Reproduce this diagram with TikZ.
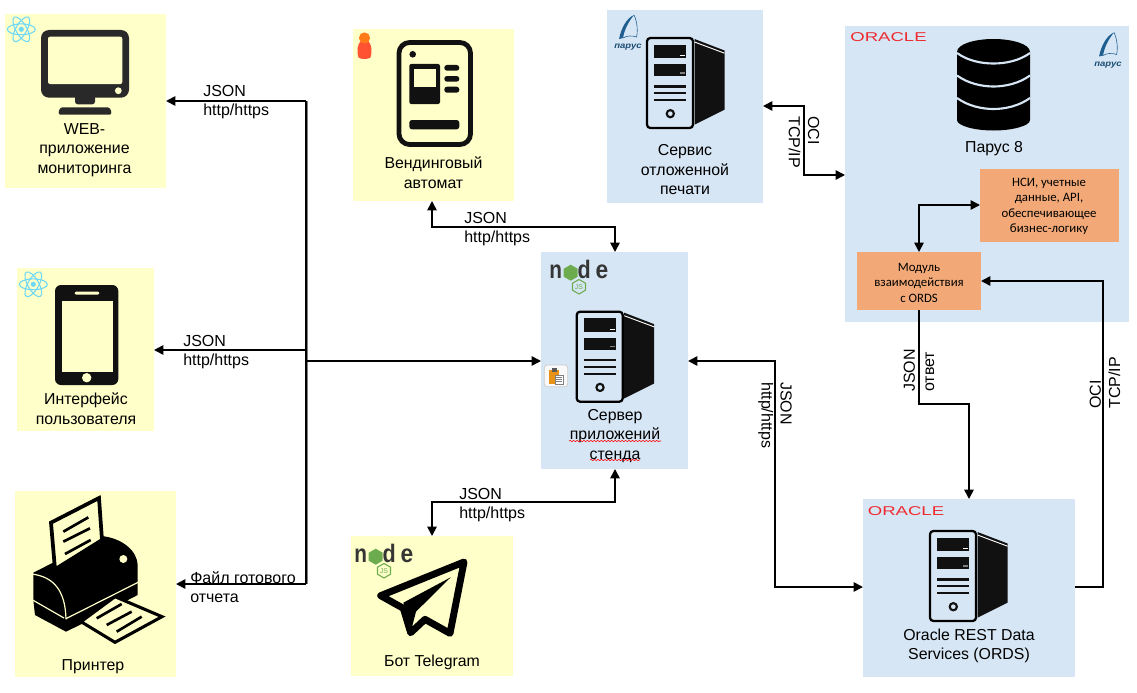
\documentclass[tikz,border=0pt]{standalone}
\usepackage{fontspec}
\setmainfont{Liberation Sans}
\newfontfamily\carlito{Carlito}
\usetikzlibrary{arrows.meta,fit,decorations.pathmorphing}
\definecolor{yel}{HTML}{FFFFC9}
\definecolor{blu}{HTML}{D7E6F5}
\definecolor{ora}{HTML}{F2A977}
\definecolor{rea}{HTML}{6FD8F5}
\definecolor{jsg}{HTML}{6CAC4F}
\definecolor{oracl}{HTML}{EE2A2E}
\definecolor{parb}{HTML}{1F5F8F}
\definecolor{ink}{HTML}{111111}
\tikzset{
  zoomed/.style 2 args={shift={(#1,#2)},x=.25pt,y=-.25pt},
  zone/.style={inner sep=0pt,outer sep=0pt,draw=none,rectangle},
  ybox/.style={zone,fill=yel},
  bbox/.style={zone,fill=blu},
  obox/.style={zone,fill=ora},
  lbl/.style={font=\fontsize{11.9}{14.6}\selectfont,align=center,inner sep=0pt,text=black},
  albl/.style={font=\fontsize{12}{14.3}\selectfont,align=left,inner sep=0pt,text=black},
  olbl/.style={font=\carlito\fontsize{9.6}{11.6}\selectfont,align=center,inner sep=0pt,text=black},
  conn/.style={draw=black,line width=1.25pt,line join=miter,-{Triangle[length=7pt,width=7pt]}},
  conn2/.style={draw=black,line width=1.25pt,line join=miter,{Triangle[length=7pt,width=7pt]}-{Triangle[length=7pt,width=7pt]}},
  plain/.style={draw=black,line width=1.25pt},
  wavy/.style={draw=red,line width=.45pt,decorate,decoration={snake,amplitude=.45pt,segment length=2.6pt}},
  oralogo/.style={text=oracl,font=\fontsize{9.6}{10}\selectfont,inner sep=0pt,xscale=1.45},
  serverpic/.pic={
    \draw[black,line width=1.7pt,rounded corners=2.5pt] (0,0) rectangle (46,90);
    \fill[ink] (7.3,6.7) rectangle (39.3,20);
    \fill[ink] (7.3,26) rectangle (39.3,38);
    \fill[white] (33,16.8) rectangle (38,17.8);
    \fill[gray] (33,34) rectangle (38,35.6);
    \fill[ink] (7.3,47.3) rectangle (39.3,49.5);
    \fill[ink] (7.3,54) rectangle (39.3,56.2);
    \fill[ink] (7.3,61.2) rectangle (39.3,63.4);
    \draw[ink,line width=1.6pt] (23.3,75.7) circle [radius=3.6];
    \fill[ink] (47.5,1) -- (77.5,12.5) -- (77.5,71.7) -- (47.5,86.7) -- cycle;
    \draw[white,line width=.7pt] (47.5,4) -- (77.5,15.2);
  },
  atompic/.pic={
    \foreach \a in {0,60,120}{
      \draw[rea,line width=.8pt,rotate=\a] (0,0) ellipse [x radius=14,y radius=5.4];
    }
    \fill[rea] (0,0) circle [radius=2.6];
  },
  nodelogo/.pic={
    \fill[jsg] (20.7,5.7) -- (27.7,9.7) -- (27.7,17.7) -- (20.7,21.7) -- (13.7,17.7) -- (13.7,9.7) -- cycle;
    \node[inner sep=0pt,anchor=base,text=ink!85,font=\bfseries\fontsize{19}{20}\selectfont,xscale=.82] (-n) at (5.8,19.3) {n};
    \node[inner sep=0pt,anchor=base,text=ink!85,font=\bfseries\fontsize{19}{20}\selectfont,xscale=.85] (-d) at (34.2,19.3) {d};
    \node[inner sep=0pt,anchor=base,text=ink!85,font=\bfseries\fontsize{19}{20}\selectfont,xscale=.9] (-e) at (52,19.3) {e};
    \draw[jsg,line width=.8pt] (29,20.5) -- (35.5,24.2) -- (35.5,31.2) -- (29,35) -- (22.5,31.2) -- (22.5,24.2) -- cycle;
    \node[inner sep=0pt,text=jsg,font=\fontsize{5.2}{5.5}\selectfont] (-j) at (29,27.7) {JS};
  },
  paruspic/.pic={
    \fill[parb] (-9,24) .. controls (-6.5,12) and (-1,3) .. (6,0) .. controls (1,6) and (-3.5,14) .. (-5,23) .. controls (-6.5,23.3) and (-7.8,23.5) .. (-9,24) -- cycle;
    \draw[parb,line width=.45pt] (6,0) .. controls (9,6) and (10,15) .. (8.6,22) .. controls (4,20.5) and (-1,20.5) .. (-5,23);
    \node[inner sep=0pt,text=parb!80!black,font=\bfseries\itshape\fontsize{6.2}{7}\selectfont,xscale=1.15] (-t) at (0,32.5) {парус};
  }
}
\begin{document}
\begin{tikzpicture}[x=.75pt,y=-.75pt]
\useasboundingbox (0,0) rectangle (1137,692);
% zones
\node[ybox,fit={(5,14)(166,188)}] (web) {};
\node[ybox,fit={(353,29)(514,201)}] (vend) {};
\node[bbox,fit={(607,10)(763,203)}] (svc) {};
\node[bbox,fit={(845,26)(1129,322)}] (parus) {};
\node[obox,fit={(980,169)(1119,242)}] (nsi) {};
\node[obox,fit={(857,252)(981,310)}] (mod) {};
\node[bbox,fit={(541,252)(688,469)}] (srv) {};
\node[bbox,fit={(863,499)(1075,677)}] (ords) {};
\node[ybox,fit={(17,268)(154,431)}] (ui) {};
\node[ybox,fit={(15,491)(176,677)}] (prn) {};
\node[ybox,fit={(351,536)(513,676)}] (tg) {};

% servers
\pic at (576.7,311.7) {serverpic};
\pic at (930,531) {serverpic};
\pic at (647,38) {serverpic};

% monitor
\fill[ink!90,rounded corners=6pt] (41,30) rectangle (129,97.7);
\fill[yel,rounded corners=1.5pt] (48,36.7) rectangle (122.3,84);
\fill[yel] (118.3,90.7) circle [radius=3.4];
\fill[ink!90,rounded corners=2pt] (75,95) -- (75,104.3) -- (95,104.3) -- (95,95) -- cycle;
\fill[ink!90,rounded corners=2pt] (58,114.7) -- (60,107.3) -- (110,107.3) -- (112,114.7) -- cycle;

% phone
\fill[ink,rounded corners=4.5pt] (55,285) rectangle (118.3,385);
\fill[yel] (61.7,300.7) rectangle (112.7,371.7);
\fill[yel,rounded corners=1pt] (74.7,291.7) rectangle (99.3,294.7);
\fill[yel] (86.7,377.7) circle [radius=4.7];

% vending
\draw[ink,line width=3.6pt,rounded corners=8pt] (399,42.5) rectangle (470.5,144.5);
\fill[ink] (412.7,54.3) circle [radius=3.3];
\fill[ink,rounded corners=1.5pt] (409.3,64) rectangle (440,104);
\fill[yel] (414,69) rectangle (436,87.3);
\fill[ink,rounded corners=2pt] (444.3,65) rectangle (459.3,70.7);
\fill[ink,rounded corners=2pt] (444.3,76) rectangle (459.3,81.7);
\fill[ink,rounded corners=2pt] (444.3,86.7) rectangle (459.3,92.7);
\fill[ink,rounded corners=2pt] (409.3,120) rectangle (459.3,129.3);

% matryoshka
\fill[red!70!orange!80!white] (358.5,57.5) .. controls (356.5,50) and (357.5,46) .. (360,42) -- (369,42) .. controls (371.5,46) and (372.5,50) .. (370.5,57.5) .. controls (368,59.5) and (361,59.5) .. (358.5,57.5) -- cycle;
\fill[orange!85!red!90!white] (364.5,38) circle [radius=5.6];

% database
\begin{scope}
\fill[black] (957,52) .. controls (957,44) and (975,39) .. (993.5,39) .. controls (1012,39) and (1030,44) .. (1030,52) -- (1030,120) .. controls (1030,126) and (1012,130.5) .. (993.5,130.5) .. controls (975,130.5) and (957,126) .. (957,120) -- cycle;
\draw[blu,line width=1.6pt] (957,53) .. controls (968,61) and (982,63.5) .. (993.5,63.5) .. controls (1005,63.5) and (1019,61) .. (1030,53);
\draw[blu,line width=1.6pt] (957,75.5) .. controls (968,83.5) and (982,86.5) .. (993.5,86.5) .. controls (1005,86.5) and (1019,83.5) .. (1030,75.5);
\draw[blu,line width=1.6pt] (957,98) .. controls (968,106) and (982,109) .. (993.5,109) .. controls (1005,109) and (1019,106) .. (1030,98);
\end{scope}

% printer
\begin{scope}[zoomed={0}{480}]
\fill[black] (100,278) -- (165,245) -- (305,168) .. controls (370,175) and (412,215) .. (413,255) -- (413,345) -- (245,432) -- (198,455) -- (105,405) -- (100,360) -- cycle;
\draw[yel,line width=.9pt] (95,282) .. controls (160,290) and (196,330) .. (198,418);
\draw[yel,line width=.9pt] (98,360) -- (192,414);
\draw[yel,line width=.9pt] (198,416) -- (416,306);
\fill[yel] (370,237) circle [radius=12];
\draw[black,line width=2.8pt,fill=yel] (153,128) -- (297,54) -- (306,180) -- (165,268) -- cycle;
\draw[black,line width=2pt] (190,155) -- (265,112);
\draw[black,line width=2pt] (190,185) -- (270,145);
\draw[black,line width=2pt] (195,222) -- (272,180);
\draw[black,line width=2.3pt,fill=yel,line join=miter] (345,350) -- (486,410) -- (345,487) -- (243,425) -- cycle;
\draw[black,line width=2pt] (290,415) -- (365,372);
\draw[black,line width=2pt] (320,435) -- (395,395);
\draw[black,line width=2pt] (350,455) -- (425,410);
\end{scope}

% telegram
\begin{scope}[zoomed={340}{480}]
\draw[black,line width=5.2pt,line join=round] (372,246) -- (330,460) -- (255,418) -- (212,458) -- (190,385) -- (122,347) -- cycle;
\fill[black] (332,292) -- (190,368) -- (215,445) -- (228,395) -- cycle;
\end{scope}

% clipboard
\begin{scope}[zoomed={530}{250}]
\draw[gray!40,fill=white!95!gray,line width=.6pt,rounded corners=2pt] (43,345) rectangle (113,410);
\fill[orange!60!brown!85!yellow] (58,360) rectangle (88,402);
\fill[white] (75,376) rectangle (101,403);
\draw[gray,line width=.3pt] (75,376) rectangle (101,403);
\foreach \yy in {383,389,395} \draw[gray,line width=.35pt] (79,\yy) -- (97,\yy);
\fill[gray!70!black] (65,355) rectangle (81,365);
\end{scope}

% logos
\pic at (21.3,29.3) {atompic};
\pic at (33.3,284.3) {atompic};
\pic (nl) at (550,259) {nodelogo};
\pic (nt) at (355,543) {nodelogo};
\pic (p1) at (628,15) {paruspic};
\pic (p2) at (1108,32.5) {paruspic};
\node[oralogo] (or1) at (888.5,37.5) {ORACLE};
\node[oralogo] (or2) at (906,511.5) {ORACLE};

% labels
\node[lbl] (webt) at (84.5,150) {WEB-\\приложение\\мониторинга};
\node[lbl] (vendt) at (433.5,172.5) {Вендинговый\\автомат};
\node[lbl] (svct) at (685,170) {Сервис\\отложенной\\печати};
\node[lbl] (part) at (994,149) {Парус 8};
\node[lbl] (srvt) at (615,436) {Сервер\\приложений\\стенда};
\node[lbl] (uit) at (86,408.5) {Интерфейс\\пользователя};
\node[lbl] (prnt) at (93,666.5) {Принтер};
\node[lbl] (tgt) at (432,662) {Бот Telegram};
\node[lbl] (ordst) at (969,646) {Oracle REST Data\\Services (ORDS)};
\node[olbl] (nsit) at (1049,206.5) {НСИ, учетные\\данные, API,\\обеспечивающее\\бизнес-логику};
\node[olbl] (modt) at (919,282.5) {Модуль\\взаимодействия\\с ORDS};
\coordinate (w1a) at (569,441);
\coordinate (w1b) at (661,441);
\coordinate (w2a) at (590,460);
\coordinate (w2b) at (640,460);
\draw[wavy] (w1a) -- (w1b);
\draw[wavy] (w2a) -- (w2b);

% connectors
\coordinate (tT) at (306,101);
\coordinate (tU) at (306,350);
\coordinate (tS) at (306,361);
\coordinate (tB) at (306,584);
\draw[gray,line width=.8pt] ([xshift=1pt]tT) -- ([xshift=1pt]tB);
\draw[plain] (tT) -- (tB);
\draw[conn] (tT) -- (tT -| web.east);
\draw[conn] (tU) -- (tU -| ui.east);
\draw[conn] (tS) -- (tS -| srv.west);
\draw[conn] (tB) -- (tB -| prn.east);

\coordinate (vA) at (432,227);
\coordinate (vB) at (615,227);
\draw[conn2] (vA |- vend.south) -- (vA) -- (vB) -- (vB |- srv.north);
\coordinate (bA) at (615,502);
\coordinate (bB) at (432,502);
\draw[conn2] (bA |- srv.south) -- (bA) -- (bB) -- (bB |- tg.north);
\coordinate (sA) at (804,106);
\coordinate (sB) at (804,175);
\draw[conn2] (sA -| svc.east) -- (sA) -- (sB) -- (sB -| parus.west);
\coordinate (mA) at (919,205);
\draw[conn2] (mA |- mod.north) -- (mA) -- (mA -| nsi.west);
\coordinate (dA) at (919,404);
\coordinate (dB) at (969,404);
\draw[conn] (dA |- mod.south) -- (dA) -- (dB) -- (dB |- ords.north);
\coordinate (eA) at (1103,587);
\coordinate (eB) at (1103,281);
\draw[conn] (eA -| ords.east) -- (eA) -- (eB) -- (eB -| mod.east);
\coordinate (fA) at (775,361);
\coordinate (fB) at (775,587);
\draw[conn2] (fA -| srv.east) -- (fA) -- (fB) -- (fB -| ords.west);

% connector labels
\node[albl,anchor=west] (l1) at (203,102) {JSON\\http/https};
\node[albl,anchor=west] (l2) at (183,352) {JSON\\http/https};
\node[albl,anchor=west] (l3) at (190,587) {Файл готового\\отчета};
\node[albl,anchor=west] (l4) at (464,229) {JSON\\http/https};
\node[albl,anchor=west] (l5) at (459,505) {JSON\\http/https};
\node[albl,anchor=west,rotate=-90] (l6) at (804,116) {OCI\\TCP/IP};
\node[albl,anchor=west,rotate=-90] (l7) at (775,382) {JSON\\http/https};
\node[albl,anchor=west,rotate=90] (l8) at (919,392) {JSON\\ответ};
\node[albl,anchor=west,rotate=90] (l9) at (1105,409) {OCI\\TCP/IP};
\end{tikzpicture}
\end{document}
